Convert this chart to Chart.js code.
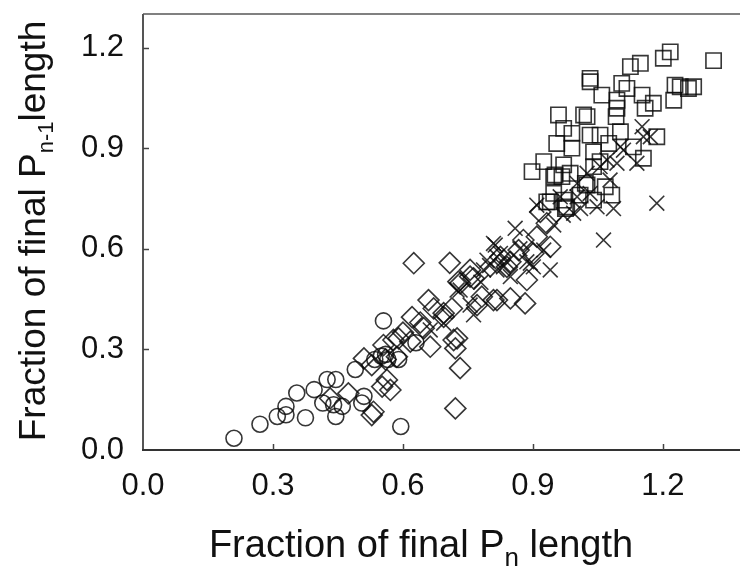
<!DOCTYPE html>
<html lang="en">
  <head>
    <meta charset="UTF-8" />
    <title>Fraction of final length</title>
    <script src="https://cdn.jsdelivr.net/npm/chart.js"></script>
    <style>
      html, body { margin: 0; background: #fff; overflow: hidden; }
      canvas { display: block; }
    </style>
  </head>
  <body>
    <canvas id="scatterChart" width="740" height="572"></canvas>

    <script>
      // tick values
      const xTicks = [0.0, 0.3, 0.6, 0.9, 1.2];
      const yTicks = [0.0, 0.3, 0.6, 0.9, 1.2];

      // series, [x, y]
      const circlePts = [
        [0.21, 0.035], [0.27, 0.077], [0.31, 0.10], [0.33, 0.105], [0.33, 0.13],
        [0.355, 0.17], [0.375, 0.096], [0.395, 0.18], [0.425, 0.21], [0.445, 0.21],
        [0.415, 0.14], [0.44, 0.135], [0.46, 0.13], [0.445, 0.10], [0.49, 0.24],
        [0.505, 0.14], [0.51, 0.16], [0.555, 0.385], [0.55, 0.28], [0.535, 0.27],
        [0.565, 0.27], [0.595, 0.07], [0.59, 0.27], [0.63, 0.32], [0.56, 0.285]
      ];
      const diamondPts = [
        [0.51, 0.273], [0.528, 0.253], [0.555, 0.313], [0.578, 0.328], [0.432, 0.154],
        [0.474, 0.169], [0.528, 0.104], [0.552, 0.189], [0.563, 0.209], [0.571, 0.179],
        [0.586, 0.278], [0.625, 0.557], [0.708, 0.558], [0.621, 0.396], [0.659, 0.447],
        [0.671, 0.422], [0.59, 0.333], [0.617, 0.323], [0.663, 0.308], [0.725, 0.333],
        [0.721, 0.303], [0.732, 0.244], [0.721, 0.124], [0.532, 0.114], [0.728, 0.502],
        [0.763, 0.512], [0.782, 0.457], [0.817, 0.447], [0.848, 0.452], [0.882, 0.437],
        [0.771, 0.432], [0.713, 0.422], [0.755, 0.537], [0.848, 0.561], [0.886, 0.507],
        [0.901, 0.586], [0.878, 0.626], [0.909, 0.636], [0.694, 0.397], [0.648, 0.363],
        [0.732, 0.497], [0.755, 0.517], [0.809, 0.447], [0.717, 0.328], [0.694, 0.408],
        [0.867, 0.596], [0.94, 0.606], [0.825, 0.576], [0.84, 0.546], [0.917, 0.71],
        [0.932, 0.676], [0.56, 0.27], [0.6, 0.35], [0.64, 0.38]
      ];
      const crossPts = [
        [0.909, 0.73], [0.948, 0.671], [0.859, 0.661], [0.813, 0.611], [0.825, 0.586],
        [0.832, 0.546], [0.817, 0.537], [0.794, 0.566], [0.886, 0.561], [0.901, 0.546],
        [0.94, 0.537], [0.925, 0.596], [0.848, 0.517], [0.755, 0.432], [0.763, 0.403],
        [0.732, 0.477], [0.694, 0.378], [0.994, 0.706], [1.002, 0.755], [1.048, 0.725],
        [1.086, 0.72], [1.063, 0.626], [1.186, 0.736], [1.094, 0.855], [1.14, 0.855],
        [1.109, 0.894], [1.155, 0.934], [1.025, 0.825], [1.055, 0.845], [1.002, 0.795],
        [0.963, 0.755], [1.078, 0.805], [1.152, 0.964], [1.171, 0.934], [1.102, 0.904],
        [1.071, 0.865], [1.032, 0.765], [0.786, 0.537], [0.817, 0.576], [0.894, 0.557],
        [0.809, 0.616], [0.725, 0.477], [0.663, 0.358], [0.87, 0.60], [0.78, 0.50],
        [0.80, 0.55], [0.84, 0.56], [0.97, 0.70], [1.01, 0.72]
      ];
      const squarePts = [
        [1.217, 1.187], [1.201, 1.168], [1.317, 1.161], [1.125, 1.143], [1.148, 1.153],
        [1.032, 1.108], [1.032, 1.098], [1.105, 1.093], [1.117, 1.078], [1.059, 1.058],
        [1.152, 1.058], [1.178, 1.034], [1.159, 1.019], [1.228, 1.088], [1.24, 1.083],
        [1.271, 1.083], [1.259, 1.078], [1.225, 1.043], [1.094, 1.043], [1.094, 1.019],
        [1.092, 0.994], [1.102, 0.949], [0.959, 0.999], [1.017, 0.999], [1.025, 0.994],
        [0.971, 0.959], [0.99, 0.944], [1.032, 0.939], [1.055, 0.939], [0.955, 0.914],
        [0.99, 0.9], [0.925, 0.86], [0.898, 0.83], [0.951, 0.82], [0.971, 0.85],
        [1.04, 0.845], [1.055, 0.86], [1.021, 0.795], [1.082, 0.76], [1.067, 0.785],
        [1.186, 0.934], [1.155, 0.87], [1.132, 0.904], [1.075, 0.914], [0.986, 0.825],
        [0.94, 0.74], [0.971, 0.745], [1.04, 0.889], [0.967, 0.815], [0.948, 0.815],
        [1.025, 0.79], [0.932, 0.74], [0.975, 0.72], [0.978, 0.725], [1.009, 0.76],
        [0.948, 0.765], [1.04, 0.745]
      ];

      const FONT = '"Liberation Sans", Arial, sans-serif';
      const ink = "rgba(10, 10, 10, 0.82)";

      function toXY(pts) {
        return pts.map((p) => ({ x: p[0], y: p[1] }));
      }

      function series(pts, style, r) {
        return {
          data: toXY(pts),
          pointStyle: style,
          pointRadius: r,
          pointBorderWidth: 1.6,
          pointBorderColor: ink,
          pointBackgroundColor: "rgba(0,0,0,0)",
          showLine: false,
        };
      }

      // text with one subscript part: [before, sub, after]
      function drawSubText(ctx, parts, cx, cy, size, subSize, subDrop) {
        const big = size + "px " + FONT;
        const small = subSize + "px " + FONT;
        ctx.font = big;
        const w0 = ctx.measureText(parts[0]).width;
        const w2 = ctx.measureText(parts[2]).width;
        ctx.font = small;
        const w1 = ctx.measureText(parts[1]).width;
        let x = cx - (w0 + w1 + w2) / 2;
        ctx.textAlign = "left";
        ctx.textBaseline = "alphabetic";
        ctx.fillStyle = "#111";
        ctx.font = big;
        ctx.fillText(parts[0], x, cy);
        x += w0;
        ctx.font = small;
        ctx.fillText(parts[1], x, cy + subDrop);
        x += w1;
        ctx.font = big;
        ctx.fillText(parts[2], x, cy);
      }

      const framePlugin = {
        id: "frame",
        afterDraw(chart) {
          const ctx = chart.ctx;
          const a = chart.chartArea;
          const xs = chart.scales.x;
          const ys = chart.scales.y;
          ctx.save();
          ctx.lineWidth = 2;
          ctx.strokeStyle = "#808080";
          ctx.beginPath();
          ctx.moveTo(a.left, a.top);
          ctx.lineTo(a.right, a.top);
          ctx.stroke();
          ctx.strokeStyle = "#555";
          ctx.beginPath();
          ctx.moveTo(a.left, a.top);
          ctx.lineTo(a.left, a.bottom);
          ctx.stroke();
          ctx.strokeStyle = "#333";
          ctx.beginPath();
          ctx.moveTo(a.left - 1, a.bottom);
          ctx.lineTo(a.right, a.bottom);
          ctx.stroke();
          // inner ticks
          ctx.lineWidth = 1.5;
          ctx.strokeStyle = "#444";
          xTicks.slice(1).forEach((v) => {
            const px = Math.round(xs.getPixelForValue(v)) + 0.5;
            ctx.beginPath();
            ctx.moveTo(px, a.bottom);
            ctx.lineTo(px, a.bottom - 6);
            ctx.stroke();
          });
          yTicks.slice(1).forEach((v) => {
            const py = Math.round(ys.getPixelForValue(v)) + 0.5;
            ctx.beginPath();
            ctx.moveTo(a.left, py);
            ctx.lineTo(a.left + 6, py);
            ctx.stroke();
          });
          // axis titles
          drawSubText(ctx, ["Fraction of final P", "n", " length"], 421, 557, 38, 26, 9);
          ctx.translate(45, 231);
          ctx.rotate(-Math.PI / 2);
          drawSubText(ctx, ["Fraction of final P", "n-1", "length"], 0, 0, 37, 22, 8);
          ctx.restore();
        },
      };

      const ctxScatter = document.getElementById("scatterChart").getContext("2d");
      const scatterChart = new Chart(ctxScatter, {
        type: "scatter",
        data: {
          datasets: [
            series(circlePts, "circle", 8),
            series(diamondPts, "rectRot", 10.5),
            series(crossPts, "crossRot", 10.5),
            series(squarePts, "rect", 10.8),
          ],
        },
        options: {
          responsive: false,
          animation: false,
          events: [],
          layout: {
            autoPadding: false,
            padding: { top: 14, right: 0, bottom: 0, left: 0 },
          },
          plugins: {
            legend: { display: false },
            tooltip: { enabled: false },
          },
          scales: {
            x: {
              type: "linear",
              min: 0,
              max: 1.378,
              afterFit: (s) => {
                s.height = 122;
                s.paddingLeft = 0;
                s.paddingRight = 0;
              },
              afterBuildTicks: (s) => { s.ticks = xTicks.map((v) => ({ value: v })); },
              grid: { display: false, drawTicks: false },
              border: { display: false },
              ticks: {
                padding: 18,
                color: "#111",
                font: { family: FONT, size: 31 },
                callback: (v) => Number(v).toFixed(1),
              },
            },
            y: {
              type: "linear",
              min: 0,
              max: 1.3,
              afterFit: (s) => {
                s.width = 143;
                s.paddingTop = 0;
                s.paddingBottom = 0;
              },
              afterBuildTicks: (s) => { s.ticks = yTicks.map((v) => ({ value: v })); },
              grid: { display: false, drawTicks: false },
              border: { display: false },
              ticks: {
                padding: 19,
                color: "#111",
                font: { family: FONT, size: 31 },
                callback: (v) => Number(v).toFixed(1),
              },
            },
          },
        },
        plugins: [framePlugin],
      });
    </script>
  </body>
</html>
